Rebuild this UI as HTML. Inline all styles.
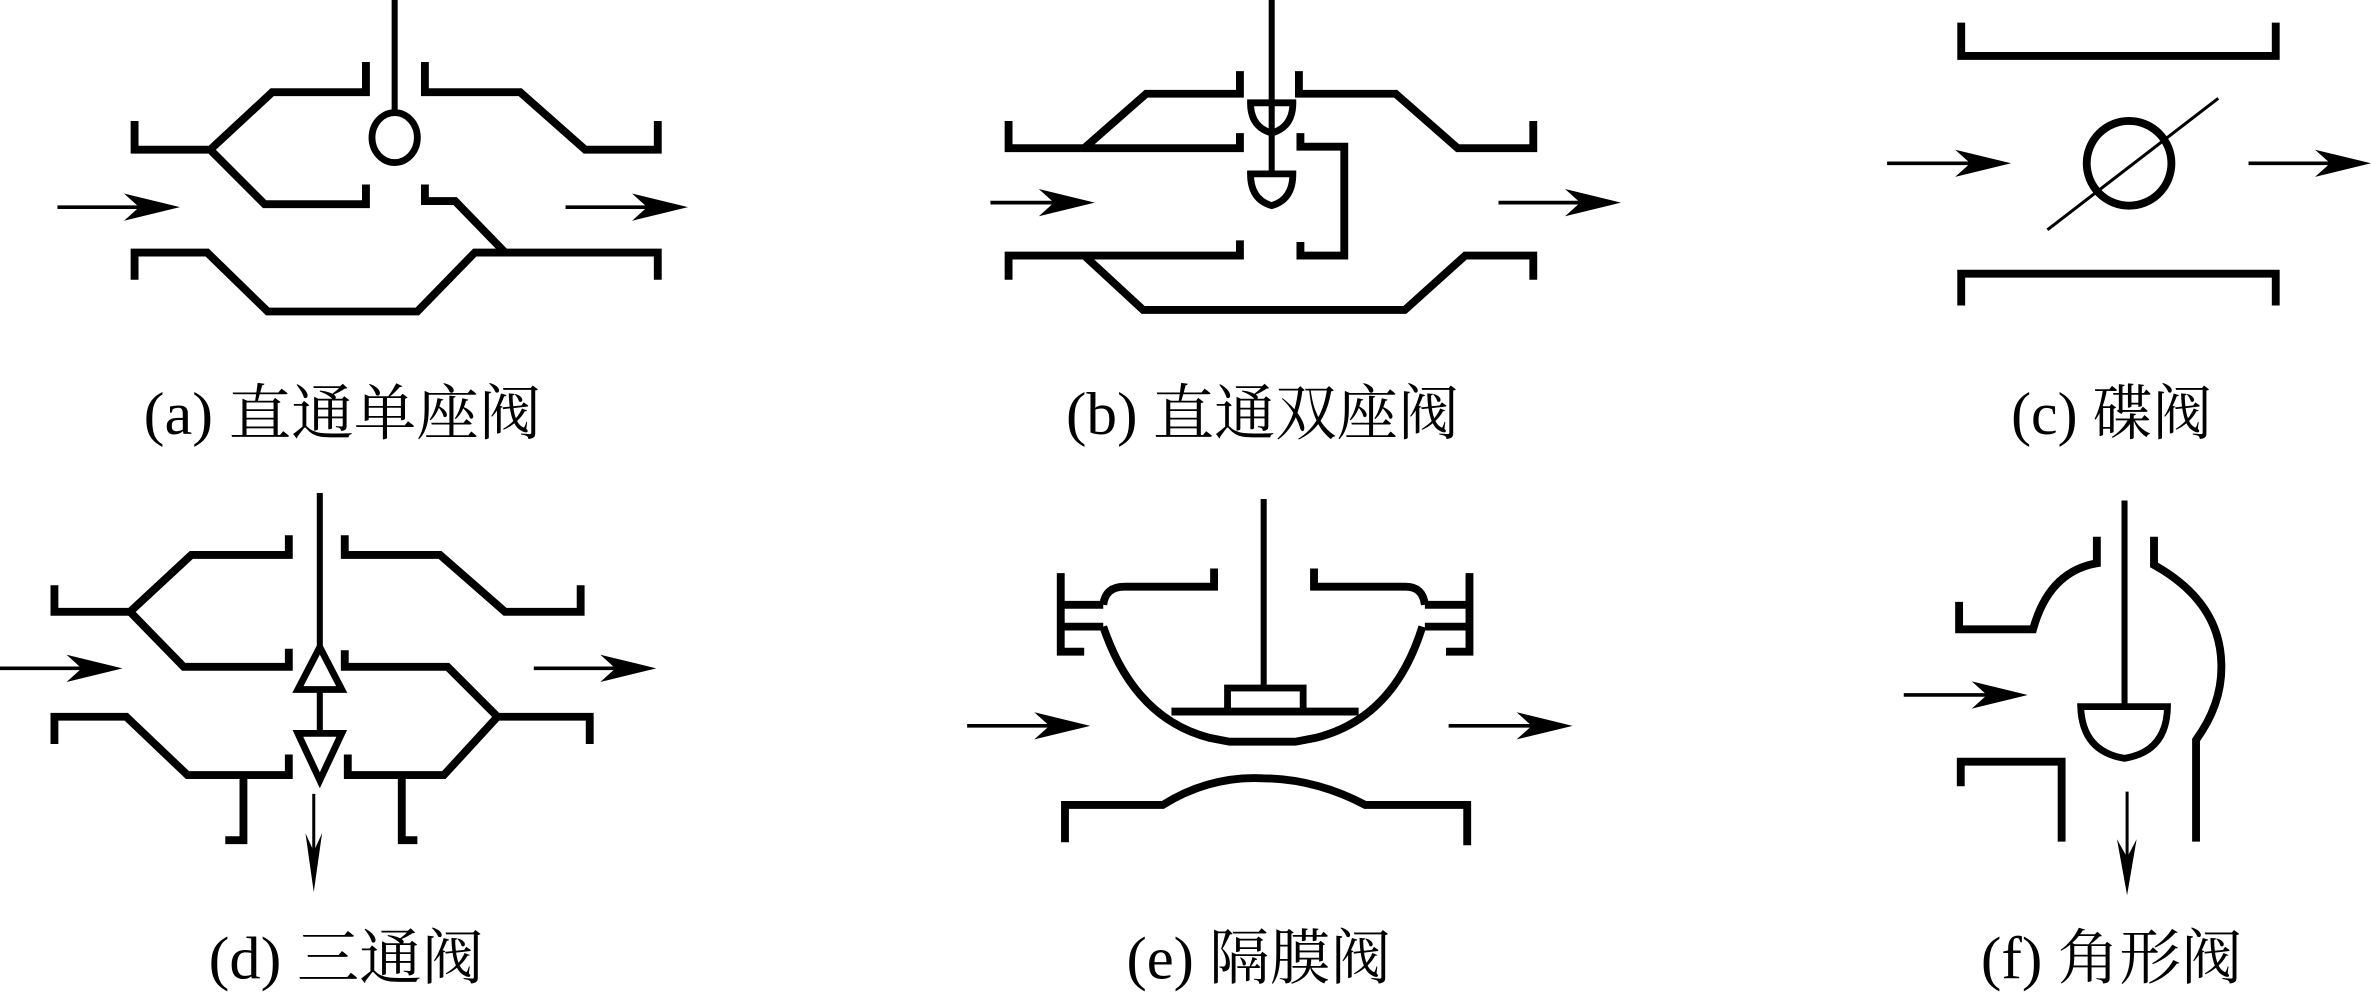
<!DOCTYPE html>
<html><head><meta charset="utf-8"><style>
html,body{margin:0;padding:0;background:#fff;}
svg{display:block}
text{font-family:"Liberation Serif","Noto Serif CJK SC","Noto Sans CJK SC",serif;font-size:40px;fill:#000}
</style></head><body>
<svg width="2371" height="998" viewBox="0 0 1568 660" preserveAspectRatio="none" xmlns="http://www.w3.org/2000/svg">
<g fill="none" stroke="#000" stroke-width="5.2" stroke-linejoin="miter">
<!-- (a) -->
<path d="M89,80 V99 H139 L180,61 H242 V41"/>
<path d="M139,99 L175,135 H242 V122"/>
<path d="M281,41 V61 H344 L387,99 H435 V80"/>
<path d="M281,122 V133 H301 L334,167"/>
<path d="M435,185 V167 H314 L276,206 H177 L137,167 H89 V185"/>
<line x1="261" y1="0" x2="261" y2="75" stroke-width="4"/>
<ellipse cx="261" cy="91" rx="15" ry="16.5" stroke-width="4.5"/>
<!-- (b) -->
<path d="M667,80 V98 H820 V88"/>
<path d="M717,98 L758,62 H820 V47"/>
<path d="M859,47 V62 H923 L964,98 H1014 V80"/>
<path d="M860,88 V97 H889 V169 H860 V160"/>
<path d="M667,185 V169 H820 V159"/>
<path d="M717,169 L756,205 H929 L969,169 H1014 V185"/>
<line x1="841" y1="0" x2="841" y2="115" stroke-width="4"/>
<path d="M827,68 H855 Q855,84 841,88 Q827,84 827,68 Z" stroke-width="4.5"/>
<path d="M827,115 H855 Q855,132 841,136 Q827,132 827,115 Z" stroke-width="4.5"/>
<!-- (c) -->
<path d="M1297,15 V37 H1505 V15"/>
<path d="M1297,202 V181 H1505 V202"/>
<circle cx="1408" cy="108" r="28"/>
<line x1="1354" y1="152" x2="1467" y2="65" stroke-width="2"/>
<!-- (d) -->
<path d="M36,387 V404.6 H86 L126.5,367 H191 V354"/>
<path d="M86,404.6 L121.5,441 H191 V429"/>
<path d="M228,354 V367 H291 L334,404.6 H384 V387"/>
<path d="M228,430 V441 H296 L329,474 H390 V492"/>
<path d="M329,474 L293.5,512.6 H230 V499"/>
<path d="M265.7,512.6 V555.6 H276"/>
<path d="M36,492 V474 H83.5 L124,512.6 H191 V499"/>
<path d="M161,512.6 V555.6 H149"/>
<line x1="211.5" y1="326" x2="211.5" y2="430" stroke-width="4"/>
<line x1="211.5" y1="456" x2="211.5" y2="485" stroke-width="4"/>
<path d="M211.5,428 L226,456 H197 Z" stroke-width="4.5"/>
<path d="M197,485 H226 L211.5,516 Z" stroke-width="4.5"/>
<line x1="207.5" y1="525" x2="207.5" y2="580" stroke-width="2"/>
<!-- (e) -->
<path d="M717,431 H701.5 V379"/>
<line x1="701.5" y1="400" x2="729.6" y2="400"/>
<line x1="701.5" y1="414.4" x2="729.6" y2="414.4"/>
<path d="M729.6,400 Q731,388 743.6,388 H802.9 V376"/>
<path d="M956.3,431 H971.8 V379"/>
<line x1="942.3" y1="400" x2="971.8" y2="400"/>
<line x1="942.3" y1="414.4" x2="971.8" y2="414.4"/>
<path d="M942.3,400 Q941,388 929.6,388 H869 V376"/>
<path d="M729.6,414.4 Q750,475 800,488 L813,490.5 H856.7 L870,488 Q922,475 940.6,414.4"/>
<line x1="774.7" y1="470.6" x2="898.5" y2="470.6"/>
<rect x="811.8" y="455" width="50" height="15.6" stroke-width="4.5"/>
<line x1="835.7" y1="330" x2="835.7" y2="455" stroke-width="4"/>
<path d="M704.3,557 V532.3 H769 Q800,513 835.2,514.7 Q870,515 902.8,532.3 H970.3 V559"/>
<!-- (f) -->
<path d="M1295.6,398 V416.2 H1344.5 Q1355,378 1386.7,372.5 V355"/>
<path d="M1424.5,355 V373.6 Q1468,398 1469,438.6 Q1470,465 1452.3,489.3 V556.6"/>
<path d="M1296.7,520 V503.7 H1363.4 V556.6"/>
<line x1="1405" y1="331" x2="1405" y2="467" stroke-width="4"/>
<path d="M1376,467.3 H1433.4 Q1433,497 1405,501.5 Q1377,497 1376,467.3 Z" stroke-width="4.5"/>
<line x1="1406.7" y1="523.5" x2="1406.7" y2="583" stroke-width="2"/>
</g>
<g stroke="#000" stroke-width="2.4">
<line x1="38" y1="137" x2="110" y2="137"/>
<line x1="374" y1="137" x2="446" y2="137"/>
<line x1="655" y1="134" x2="715" y2="134"/>
<line x1="991" y1="134" x2="1063" y2="134"/>
<line x1="1248" y1="108" x2="1322" y2="108"/>
<line x1="1487" y1="108" x2="1560" y2="108"/>
<line x1="0" y1="442" x2="73" y2="442"/>
<line x1="353" y1="442" x2="426" y2="442"/>
<line x1="639.6" y1="480" x2="712" y2="480"/>
<line x1="958" y1="480" x2="1031" y2="480"/>
<line x1="1259" y1="459.6" x2="1333" y2="459.6"/>
</g>
<g fill="#000">
<path d="M119,137 L82,128 L92,137 L82,146 Z"/>
<path d="M455,137 L418,128 L428,137 L418,146 Z"/>
<path d="M724,134 L687,125 L697,134 L687,143 Z"/>
<path d="M1072,134 L1035,125 L1045,134 L1035,143 Z"/>
<path d="M1330,108 L1293,99 L1303,108 L1293,117 Z"/>
<path d="M1568,108 L1531,99 L1541,108 L1531,117 Z"/>
<path d="M81,442 L44,433 L54,442 L44,451 Z"/>
<path d="M434,442 L397,433 L407,442 L397,451 Z"/>
<path d="M721,480 L684,471 L694,480 L684,489 Z"/>
<path d="M1040,480 L1003,471 L1013,480 L1003,489 Z"/>
<path d="M1341,459.6 L1304,450.6 L1314,459.6 L1304,468.6 Z"/>
<path d="M207.5,590 L202,551 L207.5,563 L213,551 Z"/>
<path d="M1406.7,592 L1400,555 L1406.7,567 L1413,555 Z"/>
</g>
<text x="95" y="287" textLength="263" lengthAdjust="spacingAndGlyphs">(a) 直通单座阀</text>
<text x="705" y="287" textLength="260" lengthAdjust="spacingAndGlyphs">(b) 直通双座阀</text>
<text x="1330" y="287" textLength="133" lengthAdjust="spacingAndGlyphs">(c) 碟阀</text>
<text x="138" y="647" textLength="182" lengthAdjust="spacingAndGlyphs">(d) 三通阀</text>
<text x="745" y="647" textLength="175" lengthAdjust="spacingAndGlyphs">(e) 隔膜阀</text>
<text x="1310" y="647" textLength="173" lengthAdjust="spacingAndGlyphs">(f) 角形阀</text>
</svg>
</body></html>
